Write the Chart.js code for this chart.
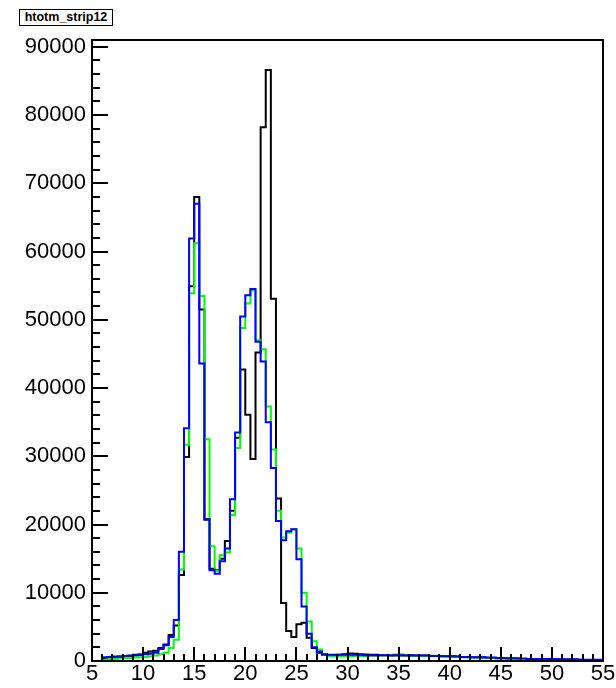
<!DOCTYPE html>
<html>
<head>
<meta charset="utf-8">
<script src="https://cdn.jsdelivr.net/npm/chart.js@4.4.0/dist/chart.umd.min.js"></script>
<style>
    html, body { margin: 0; padding: 0; background: #fff; }
    #wrap { position: relative; width: 616px; height: 688px; }
    #title {
        position: absolute; left: 19px; top: 9px; width: 92px; height: 15px;
        border: 1.5px solid #000; background: #fff;
        font: bold 12.5px "Liberation Sans", Arial, sans-serif;
        line-height: 15px; text-align: center;
    }
</style>
</head>
<body>
<div id="wrap">
    <canvas id="myChart" width="616" height="688"></canvas>
    <div id="title">htotm_strip12</div>
</div>
<script>
// Histogram: 100 bins of 0.5 from 5 to 55
const xMin = 5;
const xMax = 55;
const binWidth = 0.5;
const xTicks = [5, 10, 15, 20, 25, 30, 35, 40, 45, 50, 55];
const yTicks = [0, 10000, 20000, 30000, 40000, 50000, 60000, 70000, 80000, 90000];

// bin contents (bin low edge 5.0, 5.5, ... 54.5)
const hBlack = [
    0, 0, 450, 500, 550, 600, 650, 700, 800, 900,
    1200, 1400, 1500, 1900, 2400, 3800, 5200, 12600, 29900, 54900,
    68000, 51500, 20700, 13500, 13300, 15000, 17600, 22000, 32700, 42700,
    36100, 29600, 45200, 78200, 86600, 53100, 23800, 8500, 4400, 3500,
    5400, 5600, 3400, 1900, 1200, 900, 800, 850, 900, 1000,
    1100, 1050, 1000, 950, 900, 900, 850, 850, 850, 900,
    900, 850, 850, 800, 800, 800, 750, 750, 750, 700,
    700, 650, 600, 600, 550, 500, 500, 450, 450, 400,
    400, 350, 350, 350, 300, 300, 300, 300, 250, 250,
    250, 250, 200, 200, 200, 200, 150, 150, 150, 150
];
const hGreen = [
    0, 0, 150, 250, 300, 350, 400, 450, 500, 550,
    600, 700, 800, 1000, 1200, 1900, 3100, 13400, 31700, 53900,
    61200, 53500, 32500, 16800, 13200, 15500, 15900, 21400, 31200, 48800,
    52400, 54300, 47000, 45700, 37300, 31000, 22000, 18100, 18800, 19300,
    16500, 10000, 5800, 2900, 1700, 1000, 700, 650, 650, 650,
    650, 700, 700, 700, 750, 750, 800, 800, 800, 800,
    800, 800, 750, 750, 750, 700, 700, 700, 650, 650,
    600, 600, 550, 500, 500, 450, 450, 400, 400, 350,
    350, 350, 300, 300, 300, 300, 250, 250, 250, 250,
    200, 200, 200, 200, 200, 150, 150, 150, 150, 150
];
const hBlue = [
    0, 0, 550, 600, 650, 700, 750, 800, 900, 950,
    1000, 1050, 1200, 1750, 2300, 3500, 6000, 16000, 34100, 61900,
    67000, 43600, 20800, 13300, 12800, 14600, 16500, 23700, 33500, 50500,
    53600, 54500, 46800, 43900, 35000, 28300, 20500, 17700, 19000, 19300,
    14900, 8000, 4000, 2000, 1400, 1000, 900, 900, 900, 900,
    900, 900, 900, 850, 850, 850, 850, 850, 800, 800,
    800, 800, 800, 800, 800, 800, 750, 750, 700, 700,
    700, 650, 600, 600, 550, 550, 550, 500, 500, 450,
    450, 400, 400, 350, 350, 300, 300, 300, 300, 300,
    250, 250, 250, 250, 250, 200, 200, 200, 200, 200
];

// titik tangga: tiap bin mulai di tepi bawahnya, ditutup di xMax
function toSteps(vals) {
    const pts = vals.map((v, i) => ({ x: xMin + i * binWidth, y: v }));
    pts.push({ x: xMax, y: vals[vals.length - 1] });
    return pts;
}

const font = { family: '"Liberation Sans", Arial, sans-serif', size: 22 };

// frame + ticks ala ROOT (ticks ke dalam)
const rootFrame = {
    id: 'rootFrame',
    afterDatasetsDraw(chart) {
        const { ctx, chartArea: a, scales: { x, y } } = chart;
        ctx.save();
        ctx.strokeStyle = '#000';
        ctx.lineWidth = 2;
        ctx.beginPath();
        for (let v = 0; v <= 90000; v += 2000) {
            const py = Math.round(y.getPixelForValue(v));
            const len = v % 10000 === 0 ? 16 : 8;
            ctx.moveTo(a.left, py);
            ctx.lineTo(a.left + len, py);
        }
        for (let v = xMin; v <= xMax; v += 1) {
            const px = Math.round(x.getPixelForValue(v));
            const len = v % 5 === 0 ? 14 : 7;
            ctx.moveTo(px, a.bottom);
            ctx.lineTo(px, a.bottom - len);
        }
        ctx.stroke();
        ctx.strokeRect(a.left, a.top, a.right - a.left, a.bottom - a.top);
        ctx.restore();
    }
};

const ctx = document.getElementById('myChart').getContext('2d');
new Chart(ctx, {
    type: 'line',
    data: {
        datasets: [
            { label: 'blue', data: toSteps(hBlue), borderColor: '#0000ff', order: 0 },
            { label: 'green', data: toSteps(hGreen), borderColor: '#00ff00', order: 1 },
            { label: 'black', data: toSteps(hBlack), borderColor: '#000000', order: 2 }
        ].map(d => Object.assign(d, {
            borderWidth: 2, pointRadius: 0, fill: false, stepped: 'before', tension: 0
        }))
    },
    options: {
        responsive: false,
        animation: false,
        layout: { padding: { top: 40, right: 13, left: 0, bottom: 0 } },
        plugins: { legend: { display: false }, tooltip: { enabled: false } },
        scales: {
            x: {
                type: 'linear', min: xMin, max: xMax,
                grid: { display: false, drawTicks: false },
                border: { display: false },
                afterBuildTicks: s => { s.ticks = xTicks.map(v => ({ value: v })); },
                ticks: { font, color: '#000', padding: 0, maxRotation: 0, autoSkip: false },
                afterFit: s => { s.height = 27; }
            },
            y: {
                min: 0, max: 91000,
                grid: { display: false, drawTicks: false },
                border: { display: false },
                afterBuildTicks: s => { s.ticks = yTicks.map(v => ({ value: v })); },
                ticks: { font, color: '#000', padding: 6, autoSkip: false, callback: v => String(v) },
                afterFit: s => { s.width = 92; }
            }
        }
    },
    plugins: [rootFrame]
});
</script>
</body>
</html>
